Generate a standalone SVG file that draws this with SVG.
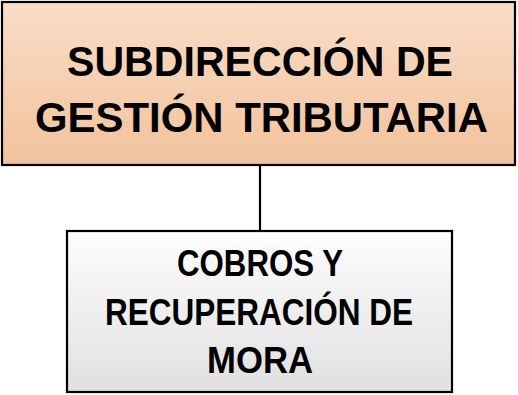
<svg xmlns="http://www.w3.org/2000/svg" width="518" height="395" viewBox="0 0 518 395">
<defs>
<linearGradient id="gTop" x1="0" y1="0" x2="0" y2="1">
<stop offset="0" stop-color="#f9ddc6"/>
<stop offset="1" stop-color="#f2c29d"/>
</linearGradient>
<linearGradient id="gBot" x1="0" y1="0" x2="0" y2="1">
<stop offset="0" stop-color="#fdfdfd"/>
<stop offset="1" stop-color="#e0e0e0"/>
</linearGradient>
<style>
.box{stroke:#000;stroke-width:2.2}
.t{font-family:"Liberation Sans",Arial,sans-serif;font-weight:bold;fill:#000;text-anchor:middle}
.big{font-size:42px}
.small{font-size:36px}
.conn{stroke:#000;stroke-width:2.2;fill:none}
</style>
</defs>
<g id="connectors">
<line class="conn" x1="260" y1="165" x2="260" y2="231"/>
</g>
<g id="node-subdireccion">
<rect class="box" x="2" y="2" width="513" height="163" fill="url(#gTop)"/>
<text class="t big" x="260" y="76" textLength="386" lengthAdjust="spacingAndGlyphs">SUBDIRECCIÓN DE</text>
<text class="t big" x="261.5" y="132" textLength="453" lengthAdjust="spacingAndGlyphs">GESTIÓN TRIBUTARIA</text>
</g>
<g id="node-cobros">
<rect class="box" x="67" y="231" width="385" height="161" fill="url(#gBot)"/>
<text class="t small" x="260" y="276" textLength="166" lengthAdjust="spacingAndGlyphs">COBROS Y</text>
<text class="t small" x="259" y="325" textLength="308" lengthAdjust="spacingAndGlyphs">RECUPERACIÓN DE</text>
<text class="t small" x="260" y="373" textLength="106" lengthAdjust="spacingAndGlyphs">MORA</text>
</g>
</svg>
